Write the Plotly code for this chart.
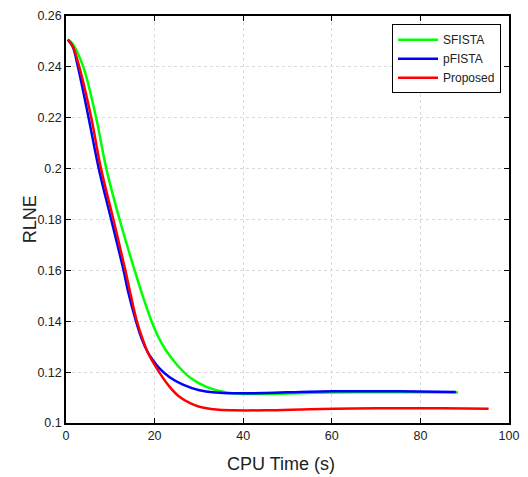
import plotly.graph_objects as go

# (CPU time in s, RLNE)
t_sfista = [0.4, 1.5, 3.9, 6.8, 9.1, 12.1, 15.5, 17.4, 19.2, 20.8, 22.4, 24.9, 27.9, 31.7, 36.2, 41.0, 50, 60, 70, 80, 88.5]
v_sfista = [0.2507, 0.2490, 0.240, 0.220, 0.200, 0.180, 0.160, 0.1495, 0.1405, 0.1340, 0.1290, 0.1232, 0.1180, 0.1142, 0.1120, 0.1114, 0.1116, 0.1120, 0.1121, 0.1121, 0.1120]

t_pfista = [0.4, 1.5, 2.7, 5.1, 7.4, 10.2, 13.0, 14.0, 15.8, 17.0, 18.4, 19.7, 21.1, 23.4, 26.4, 30.1, 33.9, 37.6, 45, 55, 65, 75, 88]
v_pfista = [0.2507, 0.2480, 0.240, 0.220, 0.200, 0.180, 0.160, 0.1518, 0.140, 0.1335, 0.1280, 0.1245, 0.1215, 0.1180, 0.1151, 0.1129, 0.1120, 0.1117, 0.1118, 0.1123, 0.1125, 0.1125, 0.1122]

t_prop = [0.4, 1.5, 3.0, 5.7, 7.9, 10.7, 13.4, 14.4, 16.0, 17.2, 18.6, 21.1, 23.4, 25.6, 27.9, 30.1, 33.9, 37.6, 45, 55, 65, 75, 85, 95.4]
v_prop = [0.2507, 0.2482, 0.240, 0.220, 0.200, 0.180, 0.160, 0.152, 0.140, 0.1335, 0.1272, 0.1198, 0.1142, 0.1103, 0.1079, 0.1064, 0.1053, 0.1050, 0.1050, 0.1054, 0.1057, 0.1058, 0.1058, 0.1056]

x_ticks = [0, 20, 40, 60, 80, 100]
y_ticks = [0.1, 0.12, 0.14, 0.16, 0.18, 0.2, 0.22, 0.24, 0.26]
y_labels = ["0.1", "0.12", "0.14", "0.16", "0.18", "0.2", "0.22", "0.24", "0.26"]

series = [
    ("SFISTA", t_sfista, v_sfista, "#00ff00"),
    ("pFISTA", t_pfista, v_pfista, "#0000ff"),
    ("Proposed", t_prop, v_prop, "#ff0000"),
]

fig = go.Figure()
for name, t, v, c in series:
    fig.add_trace(go.Scatter(x=t, y=v, name=name, mode="lines",
                             line=dict(color=c, width=2.5, shape="spline", smoothing=1.0)))

axis_common = dict(showline=True, linecolor="black", linewidth=1.5, mirror="ticks",
                   ticks="inside", ticklen=5, tickcolor="black",
                   showgrid=True, gridcolor="#d9d9d9", griddash="dot", gridwidth=1,
                   zeroline=False, tickfont=dict(size=12.5, color="#222"),
                   ticklabeloverflow="allow")

# page body keeps an 8px margin, so the figure is a little smaller than the window
fig.update_layout(
    width=520, height=469, autosize=False,
    paper_bgcolor="white", plot_bgcolor="white",
    font=dict(family="Liberation Sans, Arial, sans-serif", color="#222"),
    margin=dict(l=58, r=19, t=8, b=54, autoexpand=False),
    xaxis=dict(range=[0, 100], tickvals=x_ticks, **axis_common),
    yaxis=dict(range=[0.1, 0.26], tickvals=y_ticks, ticktext=y_labels, **axis_common),
    legend=dict(x=0.982, y=0.98, xanchor="right", yanchor="top",
                bgcolor="white", bordercolor="black", borderwidth=1, itemwidth=40,
                font=dict(size=12, color="#222"), tracegroupgap=0),
)

# axis titles placed as annotations to sit where the reference has them
fig.add_annotation(text="CPU Time (s)", xref="paper", yref="paper", x=0.485, y=-0.1,
                   xanchor="center", yanchor="middle", showarrow=False, font=dict(size=18))
fig.add_annotation(text="RLNE", xref="paper", yref="paper", x=-0.082, y=0.5,
                   xanchor="center", yanchor="middle", textangle=-90, showarrow=False,
                   font=dict(size=18))

fig.write_html("out.html")
